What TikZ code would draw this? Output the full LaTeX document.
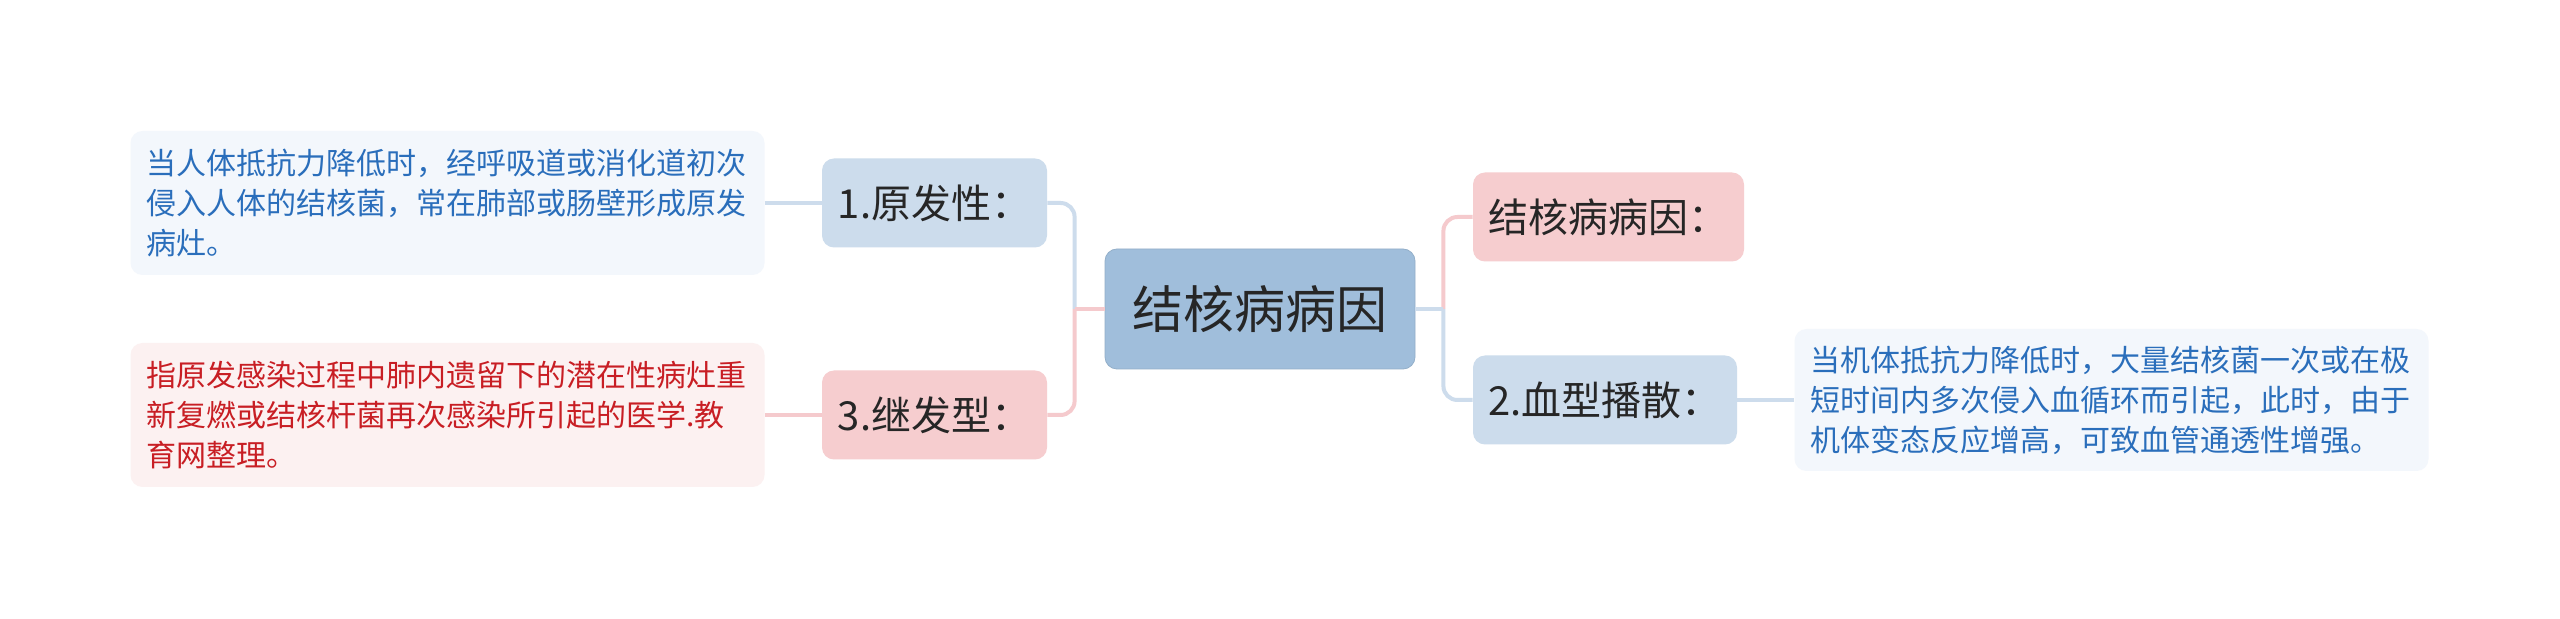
\documentclass[tikz,border=0pt]{standalone}
\usepackage{fontspec}
\setmainfont{Noto Sans CJK SC}
\definecolor{rootblue}{HTML}{A0BEDB}
\definecolor{topicblue}{HTML}{CCDCEC}
\definecolor{topicpink}{HTML}{F6CDCF}
\definecolor{descblue}{HTML}{F3F7FC}
\definecolor{descpink}{HTML}{FCF1F1}
\definecolor{inkblue}{HTML}{2A6EBB}
\definecolor{inkred}{HTML}{C81E24}
\definecolor{inkgray}{HTML}{262626}
\definecolor{linkblue}{HTML}{CDDCEC}
\definecolor{linkpink}{HTML}{F5CACD}

\begin{document}
\begin{tikzpicture}[x=0.5pt,y=-0.5pt,
    topic/.style={rounded corners=6pt,inner sep=0pt,minimum height=44.5pt,
      text=inkgray,font=\fontsize{20}{24}\selectfont},
    desc/.style={rounded corners=6pt,inner xsep=8pt,inner ysep=0pt,minimum height=72pt,
      text width=301pt,align=left,font=\fontsize{15}{20}\selectfont},
    bluelink/.style={draw=linkblue,line width=2pt,rounded corners=7pt},
    pinklink/.style={draw=linkpink,line width=2pt,rounded corners=7pt}]
  \fill[white] (0,0) rectangle (2560,619);
  \useasboundingbox (0,0) rectangle (2560,619);

  % centre
  \node[fill=rootblue,draw=rootblue!92!black,line width=0.4pt,rounded corners=6pt,
    minimum width=155pt,minimum height=60pt,inner sep=0pt,text=inkgray,
    font=\fontsize{25.5}{30}\selectfont] (root) at (1260,309) {结核病病因};

  % left side
  \node[topic,fill=topicblue,minimum width=112.5pt] (prim) at (934.5,203) {1.原发性：};
  \node[topic,fill=topicpink,minimum width=112.5pt] (sec) at (934.5,415) {3.继发型：};
  \node[desc,fill=descblue,text=inkblue] (primtxt) at (447.5,203)
    {当人体抵抗力降低时，经呼吸道或消化道初次\\侵入人体的结核菌，常在肺部或肠壁形成原发\\病灶。};
  \node[desc,fill=descpink,text=inkred] (sectxt) at (447.5,415)
    {指原发感染过程中肺内遗留下的潜在性病灶重\\新复燃或结核杆菌再次感染所引起的医学.教\\育网整理。};

  % right side
  \node[topic,fill=topicpink,minimum width=135.5pt] (cause) at (1608.5,217) {结核病病因：};
  \node[topic,fill=topicblue,minimum width=132pt] (blood) at (1605,400) {2.血型播散：};
  \node[desc,fill=descblue,text=inkblue,minimum height=71pt] (bloodtxt) at (2111.5,400)
    {当机体抵抗力降低时，大量结核菌一次或在极\\短时间内多次侵入血循环而引起，此时，由于\\机体变态反应增高，可致血管通透性增强。};

  \coordinate (jl) at ([xshift=-15pt]root.west);
  \coordinate (jr) at ([xshift=14pt]root.east);

  \draw[bluelink] (prim.east) -| (jl);
  \draw[pinklink] (sec.east) -| (jl);
  \draw[pinklink] (jl) -- (root.west);
  \draw[pinklink] (cause.west) -| (jr);
  \draw[bluelink] (blood.west) -| (jr);
  \draw[bluelink] (root.east) -- (jr);

  \draw[bluelink] (primtxt.east) -- (prim.west);
  \draw[pinklink] (sectxt.east) -- (sec.west);
  \draw[bluelink] (blood.east) -- (bloodtxt.west);
\end{tikzpicture}
\end{document}
